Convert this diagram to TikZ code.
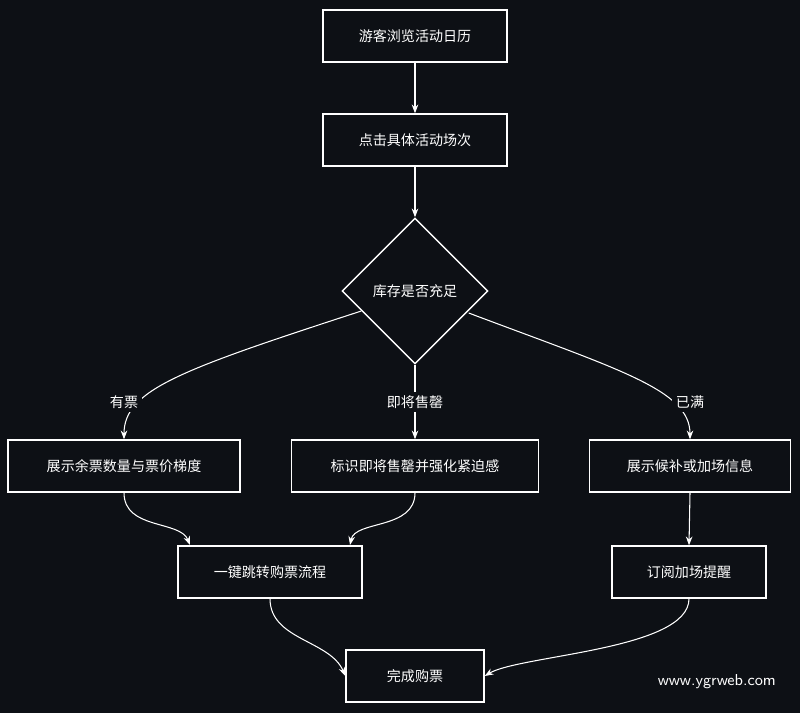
\documentclass[tikz,border=0pt]{standalone}
\usepackage{fontspec}
\newfontfamily\cjk{Noto Sans CJK SC}
\usetikzlibrary{shapes.geometric, arrows.meta}
\definecolor{bgdark}{HTML}{0D1015}
\tikzset{
  box/.style={draw=white, line width=0.8pt, text=white, font=\cjk\fontsize{8}{10}\selectfont,
    minimum height=1.04cm, inner sep=0pt},
  choice/.style={diamond, draw=white, line width=0.8pt, text=white, font=\cjk\fontsize{8}{10}\selectfont,
    minimum width=2.92cm, minimum height=2.92cm, inner sep=0pt},
  flow/.style={draw=white, line width=0.6pt, -{Stealth[length=5pt]}},
  tag/.style={fill=bgdark, text=white, font=\cjk\fontsize{8}{10}\selectfont, inner sep=2pt}
}
\begin{document}
\begin{tikzpicture}[x=0.02cm, y=-0.02cm]
    % background
    \fill[bgdark] (0,0) rectangle (800,713);

    % top of the flow
    \node[box, minimum width=3.68cm] (browse) at (415,36) {游客浏览活动日历};
    \node[box, minimum width=3.68cm] (pick) at (415,140) {点击具体活动场次};
    \node[choice] (stock) at (415,291) {库存是否充足};

    % three branches
    \node[box, minimum width=4.64cm] (show) at (124,466) {展示余票数量与票价梯度};
    \node[box, minimum width=4.94cm] (urge) at (415,466) {标识即将售罄并强化紧迫感};
    \node[box, minimum width=4.02cm] (full) at (690,466) {展示候补或加场信息};
    \node[box, minimum width=3.68cm] (jump) at (270,572) {一键跳转购票流程};
    \node[box, minimum width=3.08cm] (remind) at (689,572) {订阅加场提醒};
    \node[box, minimum width=2.76cm] (done) at (415,676) {完成购票};

    \coordinate (jumpL) at (190,545);
    \coordinate (jumpR) at (350,545);

    \draw[flow] (browse) -- (pick);
    \draw[flow] (pick) -- (stock);
    \draw[flow] (stock.west) ++(20,20) coordinate (sw) (sw) .. controls (180,370) and (124,390) .. (show.north);
    \draw[flow] (stock.south) -- (urge.north);
    \draw[flow] (stock.east) ++(-20,22) coordinate (se) (se) .. controls (620,370) and (690,390) .. (full.north);
    \node[tag] at (124,402) {有票};
    \node[tag] at (415,402) {即将售罄};
    \node[tag] at (690,402) {已满};

    \draw[flow] (show.south) .. controls (124,530) and (180,520) .. (jumpL);
    \draw[flow] (urge.south) .. controls (415,530) and (355,520) .. (jumpR);
    \draw[flow] (full.south) -- (remind.north);
    \draw[flow] (jump.south) .. controls (270,640) and (330,640) .. (done.west);
    \draw[flow] (remind.south) .. controls (689,650) and (520,655) .. (done.east);

    % watermark
    \node[text=white, font=\sffamily\fontsize{9}{11}\selectfont, anchor=east] (mark) at (782,682) {www.ygrweb.com};
\end{tikzpicture}
\end{document}
